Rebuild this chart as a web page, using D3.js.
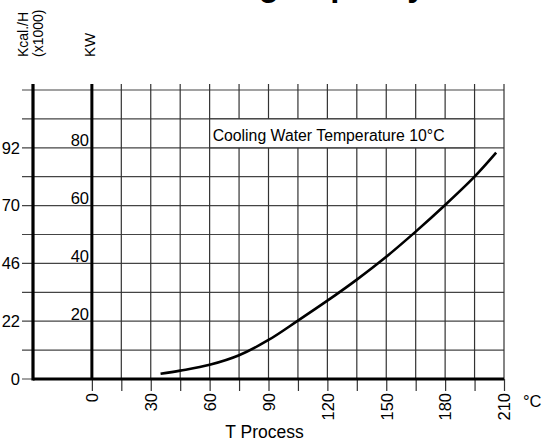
<!DOCTYPE html>
<html>
<head>
<meta charset="utf-8">
<script src="https://cdn.jsdelivr.net/npm/d3@7"></script>
<style>
  body { margin: 0; background: #fff; }
  svg { display: block; font-family: "Liberation Sans", Arial, sans-serif; }
</style>
</head>
<body>
<svg id="chart" width="551" height="441"></svg>
<script>
// chart values
const title = "Cooling Capacity";
const legendLabel = "Cooling Water Temperature 10°C";
const tempTicks = [0, 30, 60, 90, 120, 150, 180, 210];
const kcalLabels = [0, 22, 46, 70, 92];
const kcalAtKW = [0, 20, 40, 60, 80];   // kcal labels sit on these KW grid lines
const kwLabels = [20, 40, 60, 80];
const processTemp = [35, 45, 60, 75, 90, 105, 120, 135, 150, 165, 180, 195, 206];
const capacityKW = [1.8, 2.9, 4.9, 8.2, 13.5, 20.2, 27.1, 34.4, 42.3, 51.0, 60.2, 70.0, 78.3];

const svg = d3.select("#chart");

const x = d3.scaleLinear().domain([-30, 210]).range([33, 504]);
const y = d3.scaleLinear().domain([0, 100]).range([379, 90]);

const gridTemps = d3.range(0, 211, 15);
const gridKW = d3.range(0, 101, 10);

// title (only its lower part is inside the picture)
svg.append("text")
    .attr("x", 156)
    .attr("y", -4)
    .style("font-size", "33px")
    .style("font-weight", "bold")
    .text(title);

// horizontal grid lines
svg.append("g")
    .selectAll("line")
    .data(gridKW)
    .enter()
    .append("line")
    .attr("x1", 22)
    .attr("x2", x(210))
    .attr("y1", d => y(d))
    .attr("y2", d => y(d))
    .attr("stroke", "#444")
    .attr("stroke-width", 1.2);

// vertical grid lines
svg.append("g")
    .selectAll("line")
    .data(gridTemps)
    .enter()
    .append("line")
    .attr("x1", d => x(d))
    .attr("x2", d => x(d))
    .attr("y1", 84)
    .attr("y2", y(0))
    .attr("stroke", "#333")
    .attr("stroke-width", 1.2);

// legend box covers the grid inside it
svg.append("rect")
    .attr("x", x(60))
    .attr("y", y(90))
    .attr("width", x(195) - x(60))
    .attr("height", y(80) - y(90))
    .attr("fill", "#fff")
    .attr("stroke", "#333")
    .attr("stroke-width", 1.2);

svg.append("text")
    .attr("x", x(60) + 3)
    .attr("y", 140.5)
    .style("font-size", "15.8px")
    .text(legendLabel);

// x axis ticks + labels
const xAxis = svg.append("g")
    .attr("transform", `translate(0,${y(0)})`)
    .call(d3.axisBottom(x)
        .tickValues(gridTemps)
        .tickSize(12)
        .tickFormat(d => tempTicks.includes(d) ? d : ""));

xAxis.select(".domain").remove();
xAxis.selectAll(".tick line").attr("stroke", "#333").attr("stroke-width", 1.2);
xAxis.selectAll(".tick text")
    .attr("transform", "rotate(-90)")
    .attr("x", -14)
    .attr("y", 0)
    .attr("dy", "0.35em")
    .style("text-anchor", "end")
    .style("font-size", "16.5px")
    .style("font-family", "Liberation Sans, Arial, sans-serif")
    .attr("fill", "#000");

// thick axis lines
svg.append("line")
    .attr("x1", x(-30)).attr("x2", x(-30))
    .attr("y1", 84).attr("y2", y(0) + 1.5)
    .attr("stroke", "#000").attr("stroke-width", 3.2);

svg.append("line")
    .attr("x1", x(0)).attr("x2", x(0))
    .attr("y1", 84).attr("y2", y(0))
    .attr("stroke", "#000").attr("stroke-width", 3);

svg.append("line")
    .attr("x1", x(-30)).attr("x2", x(210))
    .attr("y1", y(0)).attr("y2", y(0))
    .attr("stroke", "#000").attr("stroke-width", 3);

// kcal/h labels
svg.append("g")
    .selectAll("text")
    .data(kcalLabels)
    .enter()
    .append("text")
    .attr("x", 20)
    .attr("y", (d, i) => y(kcalAtKW[i]))
    .attr("dy", "0.35em")
    .style("text-anchor", "end")
    .style("font-size", "16.5px")
    .text(d => d);

// KW labels
svg.append("g")
    .selectAll("text")
    .data(kwLabels)
    .enter()
    .append("text")
    .attr("x", 89)
    .attr("y", d => y(d) - 1.5)
    .style("text-anchor", "end")
    .style("font-size", "16.5px")
    .text(d => d);

// axis titles
svg.append("text")
    .attr("transform", "translate(28,57) rotate(-90)")
    .style("font-size", "14px")
    .text("Kcal./H");

svg.append("text")
    .attr("transform", "translate(43,57) rotate(-90)")
    .style("font-size", "14px")
    .text("(x1000)");

svg.append("text")
    .attr("transform", "translate(95,57) rotate(-90)")
    .style("font-size", "15px")
    .text("KW");

svg.append("text")
    .attr("x", 523)
    .attr("y", 407)
    .style("font-size", "16.5px")
    .text("°C");

svg.append("text")
    .attr("x", 264.5)
    .attr("y", 438)
    .style("text-anchor", "middle")
    .style("font-size", "17.5px")
    .text("T Process");

// capacity curve
const line = d3.line()
    .x((d, i) => x(processTemp[i]))
    .y(d => y(d))
    .curve(d3.curveCatmullRom);

svg.append("path")
    .datum(capacityKW)
    .attr("d", line)
    .attr("fill", "none")
    .attr("stroke", "#000")
    .attr("stroke-width", 2.6);
</script>
</body>
</html>
